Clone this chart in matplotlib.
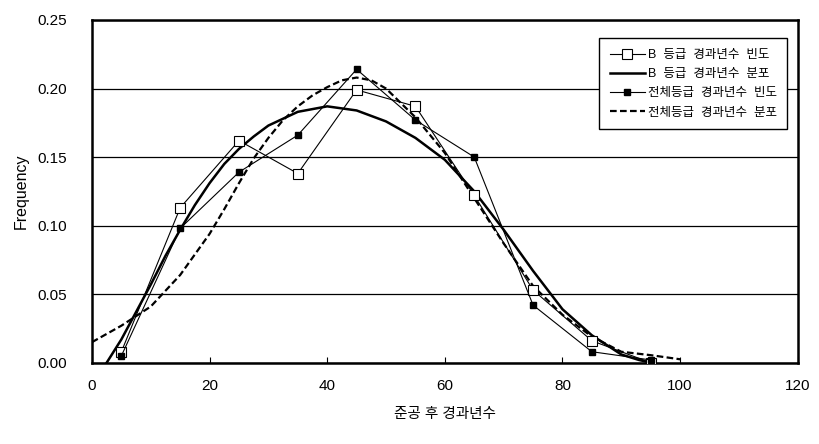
import numpy as np
import matplotlib.pyplot as plt

plt.rcParams['font.family'] = ['Liberation Sans', 'Noto Sans CJK KR']

# data
years = [5, 15, 25, 35, 45, 55, 65, 75, 85, 95]
b_freq = [0.008, 0.113, 0.162, 0.138, 0.199, 0.187, 0.122, 0.053, 0.016, 0.0]
all_freq = [0.005, 0.098, 0.139, 0.166, 0.214, 0.177, 0.150, 0.042, 0.008, 0.002]

b_dist_x = [2.5, 5, 7.5, 10, 12.5, 15, 17.5, 20, 22.5, 25, 27.5, 30, 35, 40, 45, 50, 55, 60,
            65, 70, 75, 80, 85, 90, 93, 95]
b_dist_y = [0.0, 0.017, 0.037, 0.057, 0.078, 0.097, 0.115, 0.131, 0.145, 0.156, 0.165, 0.173,
            0.183, 0.187, 0.184, 0.176, 0.164, 0.148, 0.125, 0.097, 0.067, 0.039, 0.020,
            0.006, 0.002, 0.0]

all_dist_x = [0, 5, 10, 15, 20, 22.5, 25, 27.5, 30, 32.5, 35, 37.5, 40, 42.5, 45, 47.5, 50,
              55, 60, 65, 70, 75, 80, 85, 90, 95, 100]
all_dist_y = [0.015, 0.027, 0.041, 0.064, 0.094, 0.112, 0.131, 0.149, 0.164, 0.177, 0.187,
              0.195, 0.201, 0.206, 0.208, 0.206, 0.200, 0.179, 0.153, 0.120, 0.087, 0.056,
              0.035, 0.019, 0.008, 0.0055, 0.0025]

labels = ['B  등급  경과년수  빈도', 'B  등급  경과년수  분포',
          '전체등급  경과년수  빈도', '전체등급  경과년수  분포']

fig = plt.figure(figsize=(8.19, 4.44), dpi=100)
ax = fig.add_axes([0.1123, 0.1831, 0.8617, 0.7719])

ax.plot(years, b_freq, color='black', lw=0.8, marker='s', ms=7.5,
        mfc='white', mec='black', mew=0.8, label=labels[0], zorder=4)
ax.plot(b_dist_x, b_dist_y, color='black', lw=1.8, label=labels[1], zorder=3)
ax.plot(years, all_freq, color='black', lw=0.8, marker='s', ms=4.5,
        mfc='black', mec='black', label=labels[2], zorder=5)
ax.plot(all_dist_x, all_dist_y, color='black', lw=1.6, ls=(0, (3, 1.5)),
        label=labels[3], zorder=3)

ax.set_xlim(0, 120)
ax.set_ylim(0, 0.25)
ax.set_xticks(range(0, 121, 20))
ax.set_yticks(np.arange(0, 0.251, 0.05))
ax.set_yticklabels(['%.2f' % v for v in np.arange(0, 0.251, 0.05)])
ax.yaxis.grid(True, color='black', lw=0.9)
ax.set_axisbelow(True)
for s in ax.spines.values():
    s.set_linewidth(1.8)
ax.tick_params(axis='x', direction='in', length=4, width=0.8, pad=12, labelsize=11)
ax.tick_params(axis='y', direction='in', length=0, pad=18, labelsize=11)

ax.set_ylabel('Frequency', fontsize=11.5, labelpad=6)
ax.set_xlabel('준공 후 경과년수', fontsize=10.5, labelpad=10)

leg = ax.legend(loc='upper right', bbox_to_anchor=(0.9853, 0.9466), borderaxespad=0,
                fontsize=9, numpoints=1, handlelength=2.8, handletextpad=0.25,
                labelspacing=0.58, borderpad=0.85, fancybox=False, framealpha=1,
                edgecolor='black')
leg.get_frame().set_linewidth(1.0)

plt.savefig('out.png', dpi=100)
